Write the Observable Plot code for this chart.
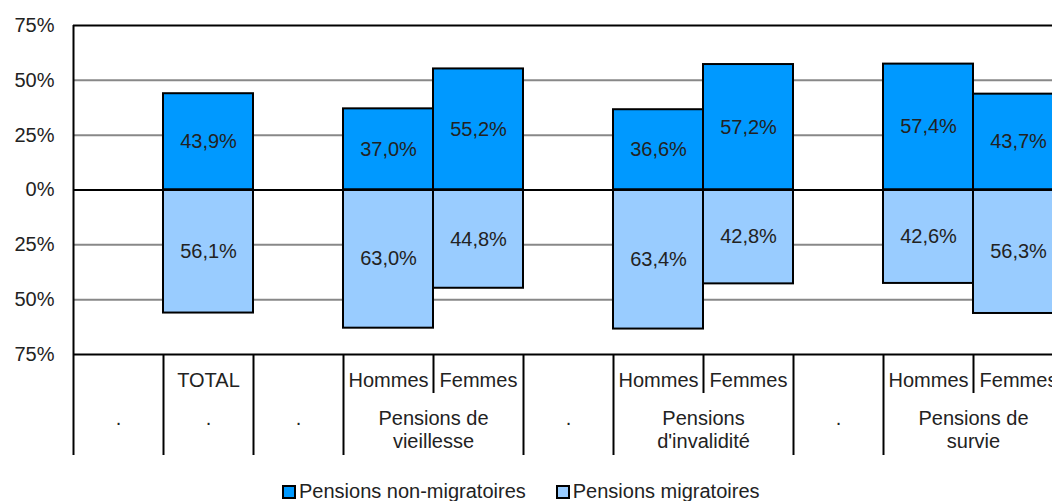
<!DOCTYPE html>
<html>
<head>
<meta charset="utf-8">
<script src="https://cdn.jsdelivr.net/npm/d3@7"></script>
<script src="https://cdn.jsdelivr.net/npm/@observablehq/plot@0.6"></script>
<style>
  html, body { margin: 0; padding: 0; background: #fff; overflow: hidden; }
  body { width: 1052px; height: 501px; font-family: "Liberation Sans", Arial, sans-serif; position: relative; }
  #chart svg { max-width: none !important; }
  #legend { position: absolute; left: 282px; top: 480px; display: flex; align-items: center; font-size: 20px; color: #222; white-space: nowrap; }
  .item { display: flex; align-items: center; margin-right: 30px; }
  .sw { width: 10px; height: 10px; border: 2px solid #000; margin-right: 3px; }
</style>
</head>
<body>
<div id="chart"></div>
<div id="legend"></div>
<script>
// Column categories (index = column position)
const columns = ["", "TOTAL", "", "Hommes", "Femmes", "", "Hommes", "Femmes", "", "Hommes", "Femmes"];
// Pensions non-migratoires (%) per column
const nonMigratoires = [null, 43.9, null, 37.0, 55.2, null, 36.6, 57.2, null, 57.4, 43.7];
// Pensions migratoires (%) per column
const migratoires = [null, 56.1, null, 63.0, 44.8, null, 63.4, 42.8, null, 42.6, 56.3];
// Group labels (second row) and their positions
const groupLabels = [".", ".", ".", "Pensions de\nvieillesse", ".", "Pensions\nd'invalidité", ".", "Pensions de\nsurvie"];
const groupPos = [0.5, 1.5, 2.5, 4, 5.5, 7, 8.5, 10];
// Divider positions in the category table
const fullDividers = [0, 1, 2, 3, 5, 6, 8, 9, 11];
const shortDividers = [4, 7, 10];
const yTicks = [-75, -50, -25, 0, 25, 50, 75];
const gridTicks = [-50, -25, 25, 50];
const seriesNames = ["Pensions non-migratoires", "Pensions migratoires"];
const seriesColors = ["#0099ff", "#99ccff"];

const fmt = v => v.toFixed(1).replace(".", ",") + "%";
const rows = [];
columns.forEach((c, i) => {
  if (nonMigratoires[i] != null) rows.push({i, series: seriesNames[0], v: nonMigratoires[i]});
  if (migratoires[i] != null) rows.push({i, series: seriesNames[1], v: -migratoires[i]});
});
const catRows = columns.map((c, i) => ({pos: i + 0.5, label: c}));
const grpRows = groupLabels.map((g, k) => ({pos: groupPos[k], label: g}));

const FONT = 20;
const chart = Plot.plot({
  width: 1064,
  height: 460,
  marginLeft: 73,
  marginRight: 1,
  marginTop: 25,
  marginBottom: 106,
  style: {fontFamily: "Liberation Sans, Arial, sans-serif", fontSize: FONT + "px", color: "#222", background: "#fff", overflow: "visible", maxWidth: "none"},
  x: {type: "linear", domain: [0, columns.length]},
  y: {domain: [-75, 75]},
  color: {domain: seriesNames, range: seriesColors},
  marks: [
    Plot.ruleY(gridTicks, {stroke: "#888", strokeWidth: 2}),
    Plot.rectY(rows, {x1: "i", x2: d => d.i + 1, y1: 0, y2: "v", fill: "series", stroke: "#000", strokeWidth: 2}),
    Plot.ruleY([0, 75, -75], {stroke: "#000", strokeWidth: 2}),
    Plot.ruleX([0], {y1: -75, y2: 75, stroke: "#000", strokeWidth: 2}),
    Plot.text(rows, {x: d => d.i + 0.5, y: d => d.v / 2, text: d => fmt(Math.abs(d.v)), fill: "#222", fontSize: FONT}),
    Plot.axisY(yTicks, {tickSize: 0, tickPadding: 19, tickFormat: d => Math.abs(d) + "%", fontSize: FONT, fill: "#222", label: null}),
    Plot.axisX(fullDividers, {tickSize: 101, tickFormat: () => "", strokeWidth: 2, stroke: "#000", label: null}),
    Plot.axisX(shortDividers, {tickSize: 39, tickFormat: () => "", strokeWidth: 2, stroke: "#000", label: null}),
    Plot.text(catRows, {x: "pos", text: "label", frameAnchor: "bottom", dy: 18, lineAnchor: "top", fill: "#222", fontSize: FONT}),
    Plot.text(grpRows, {x: "pos", text: "label", frameAnchor: "bottom", dy: 54, lineAnchor: "top", lineHeight: 1.15, fill: "#222", fontSize: FONT})
  ]
});
document.getElementById("chart").appendChild(chart);

const legend = document.getElementById("legend");
seriesNames.forEach((n, k) => {
  const it = document.createElement("div");
  it.className = "item";
  it.innerHTML = `<span class="sw" style="background:${seriesColors[k]}"></span><span>${n}</span>`;
  legend.appendChild(it);
});
</script>
</body>
</html>
